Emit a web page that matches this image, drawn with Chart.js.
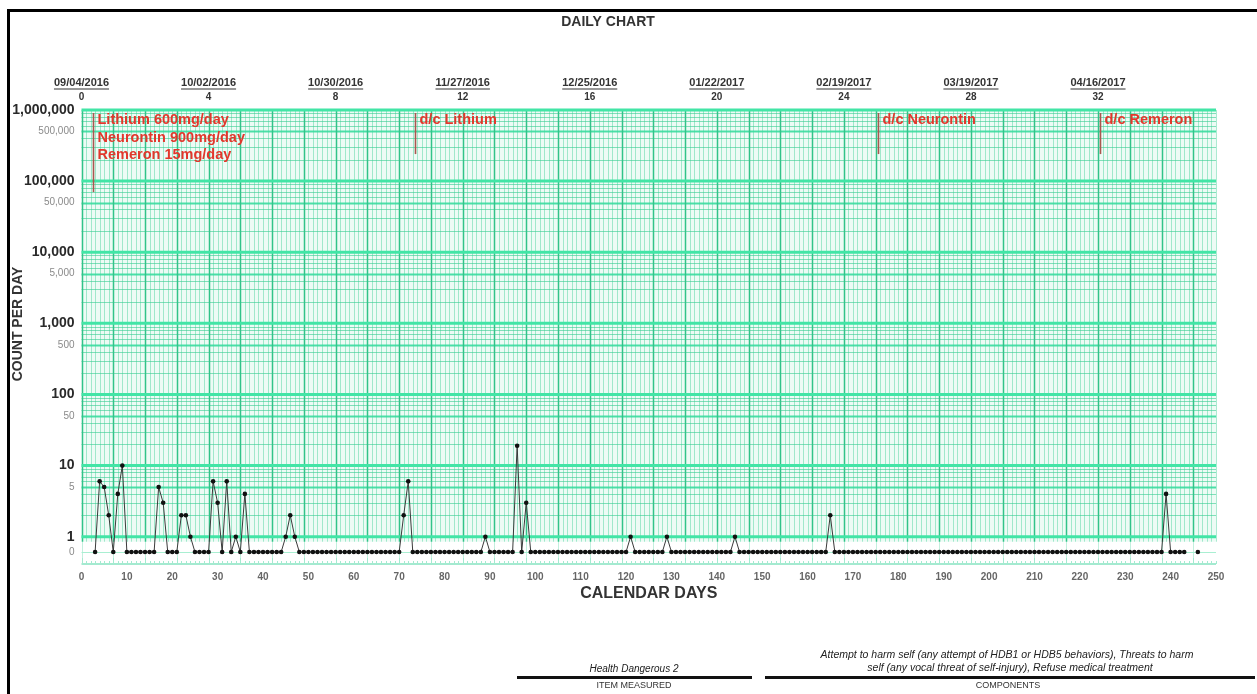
<!DOCTYPE html>
<html>
<head>
<meta charset="utf-8">
<title>Daily Chart</title>
<script src="https://cdn.jsdelivr.net/npm/chart.js@4/dist/chart.umd.min.js"></script>
<style>
  html, body { margin: 0; padding: 0; background: #ffffff; }
  canvas { display: block; }
</style>
</head>
<body>
<canvas id="chart" width="1257" height="694"></canvas>
<script>
const FONT = '"Liberation Sans", Arial, Helvetica, sans-serif';

// Count per day, indexed by calendar day (null = no record that day), one row per week
const dailyCounts = [
  null, null, null, 0, 6, 5, 2,     // days 0-6
  0, 4, 10, 0, 0, 0, 0,             // 7-13
  0, 0, 0, 5, 3, 0, 0,              // 14-20
  0, 2, 2, 1, 0, 0, 0,              // 21-27
  0, 6, 3, 0, 6, 0, 1,              // 28-34
  0, 4, 0, 0, 0, 0, 0,              // 35-41
  0, 0, 0, 1, 2, 1, 0,              // 42-48
  0, 0, 0, 0, 0, 0, 0,              // 49-55
  0, 0, 0, 0, 0, 0, 0,              // 56-62
  0, 0, 0, 0, 0, 0, 0,              // 63-69
  0, 2, 6, 0, 0, 0, 0,              // 70-76
  0, 0, 0, 0, 0, 0, 0,              // 77-83
  0, 0, 0, 0, 0, 1, 0,              // 84-90
  0, 0, 0, 0, 0, 19, 0,             // 91-97
  3, 0, 0, 0, 0, 0, 0,              // 98-104
  0, 0, 0, 0, 0, 0, 0,              // 105-111
  0, 0, 0, 0, 0, 0, 0,              // 112-118
  0, 0, 1, 0, 0, 0, 0,              // 119-125
  0, 0, 0, 1, 0, 0, 0,              // 126-132
  0, 0, 0, 0, 0, 0, 0,              // 133-139
  0, 0, 0, 0, 1, 0, 0,              // 140-146
  0, 0, 0, 0, 0, 0, 0,              // 147-153
  0, 0, 0, 0, 0, 0, 0,              // 154-160
  0, 0, 0, 0, 2, 0, 0,              // 161-167
  0, 0, 0, 0, 0, 0, 0,              // 168-174
  0, 0, 0, 0, 0, 0, 0,              // 175-181
  0, 0, 0, 0, 0, 0, 0,              // 182-188
  0, 0, 0, 0, 0, 0, 0,              // 189-195
  0, 0, 0, 0, 0, 0, 0,              // 196-202
  0, 0, 0, 0, 0, 0, 0,              // 203-209
  0, 0, 0, 0, 0, 0, 0,              // 210-216
  0, 0, 0, 0, 0, 0, 0,              // 217-223
  0, 0, 0, 0, 0, 0, 0,              // 224-230
  0, 0, 0, 0, 0, 0, 0,              // 231-237
  0, 4, 0, 0, 0, 0, null,           // 238-244
  null, 0                           // 245-246
];

// Top axis: week numbers and the date each one starts on
const weekTicks = [0, 4, 8, 12, 16, 20, 24, 28, 32];
const weekDates = ['09/04/2016', '10/02/2016', '10/30/2016', '11/27/2016', '12/25/2016',
                   '01/22/2017', '02/19/2017', '03/19/2017', '04/16/2017'];

// Labelled values on the count axis
const countTicks = [1, 5, 10, 50, 100, 500, 1000, 5000, 10000, 50000, 100000, 500000, 1000000];
const decadeTicks = [1, 10, 100, 1000, 10000, 100000, 1000000];

// Medication change lines (day boundaries) and their notes
const phaseDays = [2.5, 73.5, 175.5, 224.5];
const phaseNotes = [
  ['Lithium 600mg/day', 'Neurontin 900mg/day', 'Remeron 15mg/day'],
  ['d/c Lithium'],
  ['d/c Neurontin'],
  ['d/c Remeron']
];

const ZERO_ROW = 0.61;     // where a zero count sits below the 1 line
const GRID_FLOOR = 0.85;   // ruled paper stops here
const Y_MIN = 0.4;
const Y_MAX = 1000000;
const DAY_MAX = 250;
const TITLE_H = 14 + 14 * 1.2;

const points = dailyCounts.map((v, d) => ({ x: d, y: v === null ? null : (v === 0 ? ZERO_ROW : v) }));

// Ruled paper: daily / weekly verticals, log-cycle horizontals
const paperGrid = {
  id: 'paperGrid',
  beforeDatasetsDraw(chart) {
    const { ctx, chartArea: a, scales: { x, y } } = chart;
    const top = y.getPixelForValue(Y_MAX);
    const floor = y.getPixelForValue(GRID_FLOOR);
    ctx.save();
    ctx.fillStyle = '#edfbf5';
    ctx.fillRect(a.left, top, a.right - a.left, floor - top);

    // daily lines
    ctx.lineWidth = 1;
    ctx.strokeStyle = 'rgba(55, 205, 145, 0.42)';
    ctx.beginPath();
    for (let d = 0; d <= DAY_MAX; d++) {
      if (d % 7 === 0) continue;
      const px = Math.round(x.getPixelForValue(d)) + 0.5;
      ctx.moveTo(px, top); ctx.lineTo(px, floor);
    }
    ctx.stroke();

    // horizontal lines inside each cycle
    for (let k = 0; k < 6; k++) {
      for (let m = 2; m <= 9; m++) {
        const py = y.getPixelForValue(m * Math.pow(10, k));
        if (m === 5) {
          ctx.lineWidth = 2;
          ctx.strokeStyle = 'rgba(55, 220, 158, 0.9)';
        } else {
          ctx.lineWidth = 1;
          ctx.strokeStyle = 'rgba(55, 205, 145, 0.6)';
        }
        ctx.beginPath();
        ctx.moveTo(a.left, Math.round(py) + 0.5); ctx.lineTo(a.right, Math.round(py) + 0.5);
        ctx.stroke();
      }
    }

    // weekly lines
    ctx.lineWidth = 1.5;
    ctx.strokeStyle = '#31c389';
    ctx.beginPath();
    for (let d = 0; d <= DAY_MAX; d += 7) {
      const px = Math.round(x.getPixelForValue(d)) + 0.5;
      ctx.moveTo(px, top); ctx.lineTo(px, floor);
    }
    ctx.stroke();
    ctx.strokeStyle = 'rgba(55, 205, 145, 0.3)';
    ctx.lineWidth = 1;
    ctx.beginPath();
    for (let d = 0; d <= DAY_MAX; d += 7) {
      const px = Math.round(x.getPixelForValue(d)) + 0.5;
      ctx.moveTo(px, floor); ctx.lineTo(px, a.bottom);
    }
    ctx.stroke();

    // cycle boundaries
    ctx.lineWidth = 3;
    ctx.strokeStyle = '#42e5a6';
    decadeTicks.forEach(v => {
      const py = y.getPixelForValue(v);
      ctx.beginPath();
      ctx.moveTo(a.left, py); ctx.lineTo(a.right, py);
      ctx.stroke();
    });

    // zero row and the day axis line
    ctx.lineWidth = 1;
    ctx.strokeStyle = '#a9efd2';
    const zy = Math.round(y.getPixelForValue(ZERO_ROW)) + 0.5;
    ctx.beginPath(); ctx.moveTo(a.left, zy); ctx.lineTo(a.right, zy); ctx.stroke();

    const by = a.bottom - 1;
    ctx.lineWidth = 2;
    ctx.strokeStyle = '#a4ead0';
    ctx.beginPath(); ctx.moveTo(a.left, by); ctx.lineTo(a.right, by); ctx.stroke();
    ctx.lineWidth = 1;
    ctx.beginPath();
    for (let d = 0; d <= DAY_MAX; d++) {
      const px = Math.round(x.getPixelForValue(d)) + 0.5;
      const len = d % 7 === 0 ? 6 : 3;
      ctx.moveTo(px, by); ctx.lineTo(px, by - len);
    }
    ctx.stroke();
    ctx.restore();
  }
};

// Phase change lines with their notes
const phaseMarks = {
  id: 'phaseMarks',
  afterDatasetsDraw(chart) {
    const { ctx, scales: { x, y } } = chart;
    const top = y.getPixelForValue(Y_MAX);
    ctx.save();
    phaseDays.forEach((d, i) => {
      const notes = phaseNotes[i];
      const px = Math.round(x.getPixelForValue(d)) + 0.5;
      const endY = y.getPixelForValue(notes.length > 1 ? 70000 : 240000);
      ctx.strokeStyle = '#a9574f';
      ctx.lineWidth = 1.6;
      ctx.beginPath(); ctx.moveTo(px, top + 3); ctx.lineTo(px, endY); ctx.stroke();
      ctx.fillStyle = '#e2372c';
      ctx.font = 'bold 14.5px ' + FONT;
      ctx.textAlign = 'left';
      ctx.textBaseline = 'middle';
      notes.forEach((t, j) => ctx.fillText(t, px + 4, top + 10 + j * 17.5));
    });
    ctx.restore();
  }
};

// Frame, count axis title, week dates, and the item / component footer
const pageText = {
  id: 'pageText',
  afterDraw(chart) {
    const { ctx, scales: { x2 } } = chart;
    ctx.save();
    ctx.strokeStyle = '#000';
    ctx.lineWidth = 3;
    ctx.beginPath();
    ctx.moveTo(8.5, 694); ctx.lineTo(8.5, 10.5); ctx.lineTo(1257, 10.5);
    ctx.stroke();

    // count axis title
    ctx.save();
    ctx.translate(18.5, 324);
    ctx.rotate(-Math.PI / 2);
    ctx.font = 'bold 14px ' + FONT;
    ctx.fillStyle = '#333';
    ctx.textAlign = 'center';
    ctx.textBaseline = 'middle';
    ctx.fillText('COUNT PER DAY', 0, 0);
    ctx.restore();

    ctx.font = 'bold 11px ' + FONT;
    ctx.fillStyle = '#333';
    ctx.textAlign = 'center';
    ctx.textBaseline = 'middle';
    weekTicks.forEach((w, i) => {
      const px = x2.getPixelForValue(w * 7);
      const t = weekDates[i];
      const wd = ctx.measureText(t).width;
      ctx.fillText(t, px, 83);
      ctx.fillRect(px - wd / 2, 88.5, wd, 1);
    });

    // footer
    ctx.fillStyle = '#222';
    ctx.font = 'italic 10px ' + FONT;
    ctx.fillText('Health Dangerous 2', 634, 669);
    ctx.font = 'italic 10.5px ' + FONT;
    ctx.fillText('Attempt to harm self (any attempt of HDB1 or HDB5 behaviors), Threats to harm', 1007, 655);
    ctx.fillText('self (any vocal threat of self-injury), Refuse medical treatment', 1010, 668);
    ctx.fillStyle = '#111';
    ctx.fillRect(517, 676, 235, 3);
    ctx.fillRect(765, 676, 490, 3);
    ctx.fillStyle = '#333';
    ctx.font = '9px ' + FONT;
    ctx.fillText('ITEM MEASURED', 634, 686);
    ctx.fillText('COMPONENTS', 1008, 686);
    ctx.restore();
  }
};

new Chart(document.getElementById('chart'), {
  type: 'line',
  data: {
    datasets: [{
      data: points,
      xAxisID: 'x',
      yAxisID: 'y',
      borderColor: '#3a3a3a',
      borderWidth: 1,
      pointRadius: 2.3,
      pointBackgroundColor: '#111',
      pointBorderWidth: 0,
      spanGaps: false,
      tension: 0
    }]
  },
  options: {
    responsive: false,
    animation: false,
    devicePixelRatio: 1,
    layout: { padding: { left: 0, right: 41, top: 0, bottom: 0 } },
    plugins: {
      legend: { display: false },
      tooltip: { enabled: false },
      title: {
        display: true,
        text: 'DAILY CHART',
        color: '#333',
        font: { family: FONT, size: 14, weight: 'bold' },
        padding: { top: 14, bottom: 0 }
      }
    },
    scales: {
      x: {
        type: 'linear',
        position: 'bottom',
        min: 0,
        max: DAY_MAX,
        grid: { display: false, drawTicks: false },
        border: { display: false },
        ticks: {
          stepSize: 10,
          autoSkip: false,
          maxRotation: 0,
          padding: 6,
          color: '#666',
          font: { family: FONT, size: 10, weight: 'bold' }
        },
        title: {
          display: true,
          text: 'CALENDAR DAYS',
          color: '#333',
          font: { family: FONT, size: 16, weight: 'bold' },
          padding: { top: 0, bottom: 91 }
        },
        afterFit: s => { s.height = 694 - 565; }
      },
      x2: {
        type: 'linear',
        position: 'top',
        min: 0,
        max: DAY_MAX,
        grid: { display: false, drawTicks: false },
        border: { display: false },
        afterBuildTicks: s => { s.ticks = weekTicks.map(w => ({ value: w * 7 })); },
        ticks: {
          autoSkip: false,
          maxRotation: 0,
          padding: 7,
          color: '#333',
          font: { family: FONT, size: 10, weight: 'bold' },
          callback: v => String(v / 7)
        },
        afterFit: s => { s.height = 110 - TITLE_H; }
      },
      y: {
        type: 'logarithmic',
        min: Y_MIN,
        max: Y_MAX,
        grid: { display: false, drawTicks: false },
        border: { display: false },
        afterBuildTicks: s => { s.ticks = [ZERO_ROW, ...countTicks].map(v => ({ value: v })); },
        ticks: {
          autoSkip: false,
          padding: 7,
          callback: v => v === ZERO_ROW ? '0' : Number(v).toLocaleString('en-US'),
          color: c => decadeTicks.includes(c.tick.value) ? '#2a2a2a' : '#8a8a8a',
          font: c => decadeTicks.includes(c.tick.value)
            ? { family: FONT, size: 14, weight: 'bold' }
            : { family: FONT, size: 10 }
        },
        afterFit: s => { s.width = 81.5; }
      }
    }
  },
  plugins: [paperGrid, phaseMarks, pageText]
});
</script>
</body>
</html>
